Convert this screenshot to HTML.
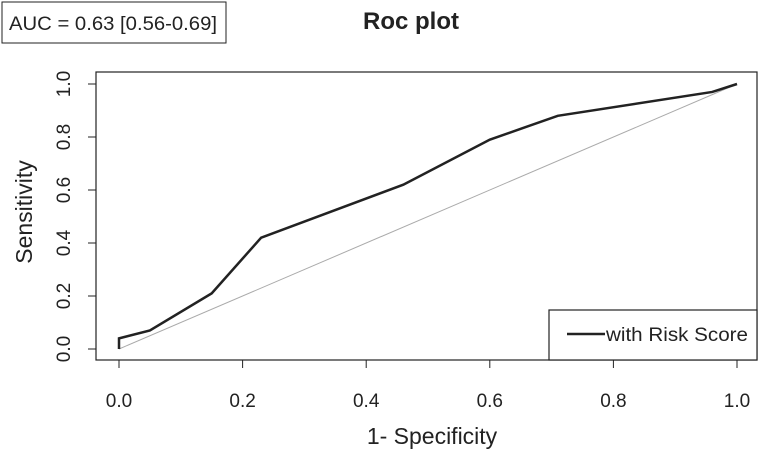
<!DOCTYPE html>
<html><head><meta charset="utf-8"><style>
body{margin:0;background:#fff;}
svg text{font-family:"Liberation Sans",Arial,sans-serif;fill:#222;}
</style></head><body>
<svg width="761" height="451" viewBox="0 0 761 451">
<rect x="2" y="2" width="224" height="41" fill="none" stroke="#222" stroke-width="1"/>
<text x="9" y="30" font-size="19" textLength="208" lengthAdjust="spacingAndGlyphs">AUC = 0.63 [0.56-0.69]</text>
<text x="411" y="29" font-size="24" font-weight="bold" text-anchor="middle">Roc plot</text>
<rect x="96" y="72" width="661" height="288" fill="none" stroke="#222" stroke-width="1.2"/>
<g id="xaxis"></g>
<g id="yaxis"></g>
<line id="diag" stroke="#aaa" stroke-width="1"/>
<polyline id="roc" fill="none" stroke="#222" stroke-width="2.5"/>
<text x="432" y="444" font-size="23" text-anchor="middle">1- Specificity</text>
<text transform="translate(32,212) rotate(-90)" font-size="23" text-anchor="middle">Sensitivity</text>
<g>
<rect x="549" y="310" width="208" height="50" fill="#fff" stroke="#222" stroke-width="1.2"/>
<line x1="567" y1="334" x2="605" y2="334" stroke="#222" stroke-width="2.5"/>
<text x="606" y="341" font-size="19" textLength="142" lengthAdjust="spacingAndGlyphs">with Risk Score</text>
</g>
</svg>
<script>
const fprValues=[0,0,0.05,0.15,0.23,0.46,0.6,0.71,0.96,1];
const tprValues=[0,0.04,0.07,0.21,0.42,0.62,0.79,0.88,0.97,1];
const xTicks=["0.0","0.2","0.4","0.6","0.8","1.0"];
const yTicks=["0.0","0.2","0.4","0.6","0.8","1.0"];
const NS="http://www.w3.org/2000/svg";
function xs(v){return 119+v*618;}
function ys(v){return 349-v*265;}
document.getElementById('roc').setAttribute('points',fprValues.map((f,i)=>xs(f)+","+ys(tprValues[i])).join(" "));
const d=document.getElementById('diag');
d.setAttribute('x1',xs(0));d.setAttribute('y1',ys(0));d.setAttribute('x2',xs(1));d.setAttribute('y2',ys(1));
const xa=document.getElementById('xaxis');
xTicks.forEach(t=>{const v=parseFloat(t);
 const l=document.createElementNS(NS,'line');
 l.setAttribute('x1',xs(v));l.setAttribute('x2',xs(v));l.setAttribute('y1',360);l.setAttribute('y2',368);l.setAttribute('stroke','#222');
 
 
 xa.appendChild(l);
 const tx=document.createElementNS(NS,'text');
 tx.setAttribute('x',xs(v));tx.setAttribute('y',407);tx.setAttribute('font-size','19');tx.setAttribute('text-anchor','middle');tx.textContent=t;
 
 
 xa.appendChild(tx);});
const ya=document.getElementById('yaxis');
yTicks.forEach(t=>{const v=parseFloat(t);
 const l=document.createElementNS(NS,'line');
 l.setAttribute('x1',88);l.setAttribute('x2',96);l.setAttribute('y1',ys(v));l.setAttribute('y2',ys(v));l.setAttribute('stroke','#222');
 
 
 ya.appendChild(l);
 const tx=document.createElementNS(NS,'text');
 tx.setAttribute('transform','translate(70,'+ys(v)+') rotate(-90)');tx.setAttribute('font-size','19');tx.setAttribute('text-anchor','middle');tx.textContent=t;
 
 
 ya.appendChild(tx);});
</script>
</body></html>
